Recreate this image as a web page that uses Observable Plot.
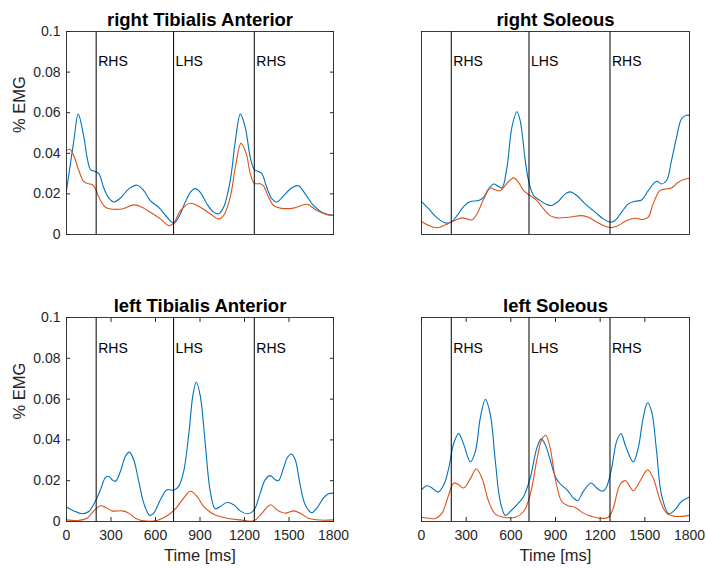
<!DOCTYPE html>
<html><head><meta charset="utf-8">
<script src="https://cdn.jsdelivr.net/npm/d3@7"></script>
<script src="https://cdn.jsdelivr.net/npm/@observablehq/plot@0.6"></script>
<style>
body{margin:0;background:#fff;}
#chart{position:relative;width:706px;height:568px;background:#fff;}
#chart svg{position:absolute;}
</style></head><body><div id="chart"></div>
<script>
// ---- shared labels / ticks ----
const eventTimes = [200, 722, 1266];
const eventLabels = ["RHS", "LHS", "RHS"];
const xTicks = [0, 300, 600, 900, 1200, 1500, 1800];
const yTicks = [0, 0.02, 0.04, 0.06, 0.08, 0.1];
const titles = ["right Tibialis Anterior", "right Soleous", "left Tibialis Anterior", "left Soleous"];
const xLabel = "Time [ms]";
const yLabel = "% EMG";

// ---- right Tibialis Anterior ----
const rTA_blue_t = [0,49,79,117,139,162,195,218,251,285,319,364,420,476,521,565,622,678,723,756,801,835,868,902,947,992,1026,1059,1104,1138,1172,1205,1239,1266,1295,1317,1351,1385,1418,1463,1519,1564,1609,1665,1721,1766,1800];
const rTA_blue_v = [0.0216,0.046,0.0593,0.048,0.038,0.032,0.031,0.030,0.023,0.018,0.016,0.018,0.0225,0.0243,0.0216,0.0167,0.0134,0.0085,0.0056,0.0085,0.016,0.0208,0.0226,0.0208,0.015,0.011,0.0102,0.0134,0.0266,0.046,0.0593,0.0528,0.038,0.032,0.031,0.030,0.023,0.0175,0.016,0.019,0.023,0.024,0.020,0.0143,0.011,0.0098,0.0095];
const rTA_orange_t = [0,22,49,83,117,150,173,195,229,263,296,375,453,498,565,633,689,723,768,835,902,969,1026,1059,1104,1138,1176,1212,1239,1266,1306,1328,1362,1396,1441,1530,1620,1688,1755,1800];
const rTA_orange_v = [0.0413,0.042,0.0388,0.0315,0.026,0.025,0.0246,0.0225,0.0167,0.0134,0.0126,0.0126,0.0146,0.0138,0.011,0.0077,0.0044,0.0056,0.0118,0.0154,0.0134,0.0102,0.0077,0.0093,0.0184,0.033,0.0449,0.0397,0.030,0.0252,0.025,0.024,0.0184,0.0143,0.013,0.013,0.0149,0.0118,0.0098,0.0093];

// ---- right Soleous ----
const rSO_blue_t = [0,49,105,161,199,239,284,328,384,418,451,485,514,540,574,607,641,663,697,719,753,797,842,875,920,965,998,1043,1099,1166,1221,1266,1300,1344,1389,1434,1478,1523,1579,1612,1646,1679,1713,1746,1780,1800];
const rSO_blue_v = [0.0162,0.0126,0.0082,0.0057,0.0061,0.0093,0.0138,0.0162,0.0167,0.0184,0.0225,0.0249,0.0238,0.0229,0.0331,0.0528,0.0605,0.056,0.0364,0.0266,0.0192,0.0167,0.0148,0.0143,0.0164,0.020,0.021,0.0192,0.0151,0.011,0.0077,0.0061,0.0069,0.011,0.0151,0.0164,0.017,0.0216,0.0262,0.0249,0.0266,0.0364,0.0479,0.0569,0.0587,0.0587];
const rSO_orange_t = [0,49,105,161,199,239,272,306,339,373,418,462,496,529,574,618,652,686,730,775,820,864,909,987,1076,1121,1177,1233,1277,1322,1378,1434,1489,1523,1556,1601,1646,1679,1724,1768,1800];
const rSO_orange_v = [0.0064,0.0044,0.0033,0.0048,0.0061,0.0074,0.0082,0.0077,0.0072,0.0102,0.0175,0.0229,0.022,0.0216,0.0252,0.0279,0.0257,0.0216,0.0192,0.0167,0.0126,0.0093,0.0082,0.0085,0.0093,0.0085,0.0061,0.0041,0.0034,0.0044,0.0069,0.008,0.0074,0.0085,0.0151,0.0216,0.0225,0.0229,0.0257,0.0272,0.0277];

// ---- left Tibialis Anterior ----
const lTA_blue_t = [0,49,105,150,200,229,263,285,307,330,364,397,424,453,487,521,561,588,633,678,723,756,790,824,853,875,902,936,969,1003,1037,1082,1127,1171,1216,1250,1272,1306,1340,1373,1407,1429,1463,1490,1517,1542,1575,1609,1654,1688,1732,1766,1800];
const lTA_blue_v = [0.0071,0.0052,0.0038,0.0049,0.0107,0.0156,0.0216,0.0221,0.0205,0.0197,0.0246,0.032,0.034,0.0303,0.0197,0.009,0.003,0.0041,0.0107,0.0156,0.0153,0.0172,0.0246,0.0426,0.0623,0.0684,0.0615,0.0377,0.0148,0.0062,0.0074,0.0093,0.0082,0.0052,0.0038,0.0046,0.0066,0.0139,0.0205,0.0225,0.0205,0.020,0.0262,0.0315,0.0331,0.0303,0.018,0.0082,0.0043,0.0066,0.0115,0.0136,0.0139];
const lTA_orange_t = [0,72,139,184,229,263,307,375,420,465,521,610,678,734,790,835,880,925,992,1082,1171,1261,1306,1351,1378,1418,1474,1530,1575,1631,1710,1800];
const lTA_orange_v = [0.0008,0.0005,0.0016,0.0052,0.0077,0.0069,0.0052,0.0052,0.0041,0.0016,0.0003,0.0005,0.0028,0.0062,0.0115,0.0148,0.0123,0.0074,0.0036,0.0016,0.0008,0.0003,0.003,0.0069,0.0082,0.0057,0.0041,0.0052,0.0041,0.0016,0.0007,0.0008];

// ---- left Soleous ----
const lSO_blue_t = [0,38,71,112,150,183,217,250,284,328,362,395,429,462,496,529,563,596,641,686,730,775,804,831,864,898,931,976,1021,1049,1087,1139,1177,1215,1244,1277,1311,1340,1371,1422,1456,1489,1518,1545,1579,1612,1661,1702,1746,1800];
const lSO_blue_v = [0.0156,0.0175,0.0164,0.0144,0.018,0.0262,0.0385,0.0431,0.0377,0.0292,0.0344,0.0508,0.0599,0.0525,0.0295,0.0098,0.003,0.0049,0.0082,0.0123,0.0213,0.0361,0.0405,0.0377,0.0303,0.0221,0.0185,0.0156,0.0115,0.0102,0.0148,0.0189,0.0164,0.0148,0.0172,0.0262,0.0394,0.0431,0.0369,0.0292,0.0361,0.0508,0.0582,0.0541,0.0344,0.0131,0.0038,0.0057,0.0098,0.012];
const lSO_orange_t = [0,49,94,138,183,217,250,284,328,368,406,451,496,552,630,686,730,775,808,835,864,898,942,987,1032,1087,1143,1199,1255,1288,1333,1371,1422,1467,1518,1556,1601,1646,1702,1800];
const lSO_orange_v = [0.0021,0.0016,0.0015,0.0041,0.0131,0.0189,0.018,0.0164,0.021,0.0257,0.0213,0.0098,0.0036,0.0021,0.0021,0.0049,0.0131,0.0303,0.0402,0.0423,0.0361,0.0213,0.0098,0.0077,0.0069,0.0041,0.0025,0.0016,0.0021,0.0066,0.018,0.020,0.0151,0.0197,0.0254,0.0213,0.0107,0.0041,0.0025,0.003];

const blueColor = "#0072BD";
const orangeColor = "#D95319";
const zip = (t, v) => t.map((d, i) => ({t: d, v: v[i]}));

const FONT = '"Liberation Sans", Arial, sans-serif';
const W = 353, H = 284;

function panel({title, blue, orange, leftCol, bottomRow, ml, mr, mt, mb}) {
  const marks = [
    Plot.line(blue, {x: "t", y: "v", stroke: blueColor, strokeWidth: 1.1, curve: "catmull-rom"}),
    Plot.line(orange, {x: "t", y: "v", stroke: orangeColor, strokeWidth: 1.1, curve: "catmull-rom"}),
    Plot.ruleX(eventTimes, {stroke: "#000", strokeWidth: 1}),
    Plot.text(eventTimes, {x: d => d, y: () => 0.085, text: (d, i) => eventLabels[i], textAnchor: "start", dx: 2, fontSize: 14, fill: "#000"}),
    Plot.frame({stroke: "#262626", strokeWidth: 0.9}),
    Plot.text([title], {frameAnchor: "top", lineAnchor: "bottom", dy: -6, text: d => d, fontWeight: "bold", fontSize: 18.5, fill: "#000"})
  ];
  if (leftCol) {
    marks.push(
      Plot.axisY(yTicks, {anchor: "left", tickSize: -4, tickPadding: 10, tickFormat: d => String(d), fontSize: 14, color: "#262626", label: null}),
      Plot.axisY(yTicks, {anchor: "right", tickSize: -4, tickFormat: () => "", color: "#262626", label: null}),
      Plot.text([yLabel], {frameAnchor: "left", dx: -47, rotate: -90, text: d => d, fontSize: 16.5, fill: "#262626"})
    );
  }
  if (bottomRow) {
    marks.push(
      Plot.axisX(xTicks, {anchor: "bottom", tickSize: -4, tickPadding: 13, tickFormat: d => String(d), fontSize: 14, color: "#262626", label: null}),
      Plot.axisX(xTicks, {anchor: "top", tickSize: -4, tickFormat: () => "", color: "#262626", label: null}),
      Plot.text([xLabel], {frameAnchor: "bottom", lineAnchor: "bottom", dy: 39, text: d => d, fontSize: 16.5, fill: "#262626"})
    );
  }
  return Plot.plot({
    width: W, height: H,
    marginLeft: ml, marginRight: mr, marginTop: mt, marginBottom: mb,
    style: {fontFamily: FONT, background: "transparent", overflow: "visible"},
    x: {domain: [0, 1800], ...(bottomRow ? {} : {axis: null})},
    y: {domain: [0, 0.1], ...(leftCol ? {} : {axis: null})},
    marks
  });
}

const chart = document.getElementById("chart");
const specs = [
  {title: titles[0], blue: zip(rTA_blue_t, rTA_blue_v), orange: zip(rTA_orange_t, rTA_orange_v), leftCol: true, bottomRow: false, left: 0, top: 0, ml: 66, mr: 20, mt: 31, mb: 50},
  {title: titles[1], blue: zip(rSO_blue_t, rSO_blue_v), orange: zip(rSO_orange_t, rSO_orange_v), leftCol: false, bottomRow: false, left: 353, top: 0, ml: 68, mr: 17, mt: 31, mb: 50},
  {title: titles[2], blue: zip(lTA_blue_t, lTA_blue_v), orange: zip(lTA_orange_t, lTA_orange_v), leftCol: true, bottomRow: true, left: 0, top: 284, ml: 66, mr: 20, mt: 33, mb: 47},
  {title: titles[3], blue: zip(lSO_blue_t, lSO_blue_v), orange: zip(lSO_orange_t, lSO_orange_v), leftCol: false, bottomRow: true, left: 353, top: 284, ml: 68, mr: 17, mt: 33, mb: 47}
];
for (const s of specs) {
  const svg = panel(s);
  svg.style.left = s.left + "px";
  svg.style.top = s.top + "px";
  chart.appendChild(svg);
}
</script>
</body></html>
